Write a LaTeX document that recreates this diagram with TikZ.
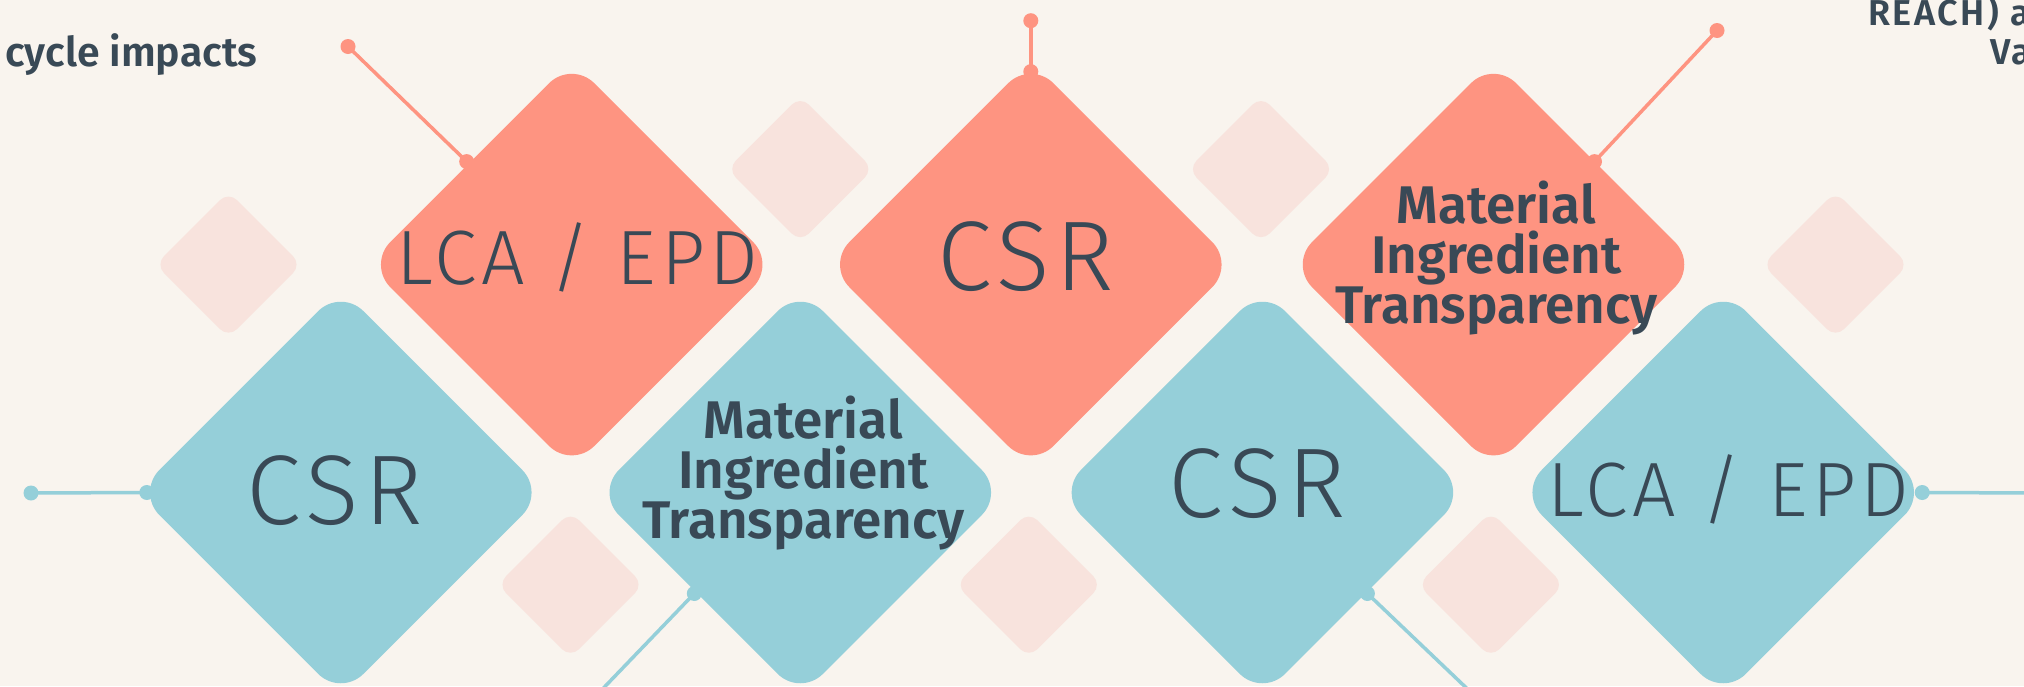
\documentclass[tikz,border=0pt]{standalone}
\usepackage{fontspec}
\usetikzlibrary{shapes.geometric,calc}
\newfontfamily\lightfont[LetterSpace=6]{Fira Sans Light}
\newfontfamily\semifont{Fira Sans SemiBold}
\newfontfamily\semiwidefont[LetterSpace=7]{Fira Sans SemiBold}
\definecolor{bgc}{HTML}{F9F4EE}
\definecolor{salmonc}{HTML}{FE9481}
\definecolor{bluec}{HTML}{95CFD9}
\definecolor{palec}{HTML}{F8E3DD}
\definecolor{inkc}{HTML}{394956}
\tikzset{
  bigdia/.style={diamond, aspect=1, minimum width=408pt, minimum height=408pt, inner sep=0pt, outer sep=0pt, rounded corners=32pt},
  salmondia/.style={bigdia, fill=salmonc},
  bluedia/.style={bigdia, fill=bluec},
  smalldia/.style={diamond, aspect=1, minimum width=146pt, minimum height=146pt, inner sep=0pt, outer sep=0pt, rounded corners=12pt, fill=palec},
  conn/.style={line width=3.5pt},
  dotn/.style={circle, inner sep=0pt, outer sep=0pt, minimum size=15pt},
  bigtxt/.style={text=inkc, inner sep=0pt, anchor=base, font=\lightfont\fontsize{77}{77}\selectfont},
  hugetxt/.style={text=inkc, inner sep=0pt, anchor=base, font=\lightfont\fontsize{99}{99}\selectfont},
  mattxt/.style={text=inkc, inner sep=0pt, anchor=base, align=center, font=\semifont\fontsize{53}{50}\selectfont},
  sidetxt/.style={text=inkc, inner sep=0pt, anchor=base west}
}
\begin{document}
\begin{tikzpicture}[x=1pt,y=-1pt]
\fill[bgc] (0,0) rectangle (2024,686);
\useasboundingbox (0,0) rectangle (2024,686);
% pale small diamonds
\node[smalldia] (p1) at (228.5,264.6) {};
\node[smalldia] (p2) at (800.3,169.1) {};
\node[smalldia] (p3) at (1261,169.1) {};
\node[smalldia] (p4) at (1835.5,264.6) {};
\node[smalldia] (p5) at (570.5,584.7) {};
\node[smalldia] (p6) at (1028.8,584.7) {};
\node[smalldia] (p7) at (1490.9,584.7) {};
% big diamonds
\node[salmondia] (s1) at (571.7,264.6) {};
\node[salmondia] (s2) at (1030.8,264.6) {};
\node[salmondia] (s3) at (1493.5,264.6) {};
\node[bluedia] (b1) at (340.8,492.5) {};
\node[bluedia] (b2) at (800.3,492.5) {};
\node[bluedia] (b3) at (1262.4,492.5) {};
\node[bluedia] (b4) at (1723.2,492.5) {};
% connectors (salmon)
\coordinate (c1) at (348,46.5);
\coordinate (c2) at (1030.8,20.7);
\coordinate (c3) at (1717,30.5);
\node[dotn, fill=salmonc] (d1o) at (c1) {};
\node[dotn, fill=salmonc] (d1i) at ($(s1.north west)+(-3,-1)$) {};
\draw[conn, salmonc] (d1o.center) -- (d1i.center);
\node[dotn, fill=salmonc] (d2o) at (c2) {};
\node[dotn, fill=salmonc] (d2i) at ($(s2.north)+(0,11)$) {};
\draw[conn, salmonc] (d2o.center) -- (d2i.center);
\node[dotn, fill=salmonc] (d3o) at (c3) {};
\node[dotn, fill=salmonc] (d3i) at ($(s3.north east)+(-1,-1)$) {};
\draw[conn, salmonc] (d3o.center) -- (d3i.center);
% connectors (blue)
\coordinate (e1) at (31,493);
\coordinate (e2) at (592,700);
\coordinate (e3) at (1479,700);
\coordinate (e4) at (2040,493);
\node[dotn, fill=bluec] (f1o) at (e1) {};
\node[dotn, fill=bluec] (f1i) at ($(b1.west)+(10,0)$) {};
\draw[conn, bluec] (f1o.center) -- (f1i.center);
\node[dotn, fill=bluec] (f2i) at ($(b2.south west)+(-4,-1)$) {};
\draw[conn, bluec] (f2i.center) -- (e2);
\node[dotn, fill=bluec] (f3i) at ($(b3.south east)+(3,-1)$) {};
\draw[conn, bluec] (f3i.center) -- (e3);
\node[dotn, fill=bluec] (f4i) at ($(b4.east)+(-5,0)$) {};
\draw[conn, bluec] (f4i.center) -- (e4);
% texts
\node[bigtxt] (t1) at (577.4,284) {LCA / EPD};
\node[hugetxt] (t2) at (1025.7,290.7) {CSR};
\node[mattxt] (t3) at (1496.5,323) {Material\\Ingredient\\Transparency};
\node[hugetxt] (t4) at (334.8,524.5) {CSR};
\node[mattxt] (t5) at (803.5,538) {Material\\Ingredient\\Transparency};
\node[hugetxt] (t6) at (1257.5,517.7) {CSR};
\node[bigtxt] (t7) at (1728.5,516) {LCA / EPD};
\node[sidetxt, font=\semifont\fontsize{41}{41}\selectfont] (tl) at (5,66.7) {cycle impacts};
\node[sidetxt, font=\semiwidefont\fontsize{36}{36}\selectfont] (tr1) at (1868,25) {REACH) a};
\node[sidetxt, font=\semiwidefont\fontsize{36}{36}\selectfont] (tr2) at (1990,64) {Va};
\end{tikzpicture}
\end{document}
